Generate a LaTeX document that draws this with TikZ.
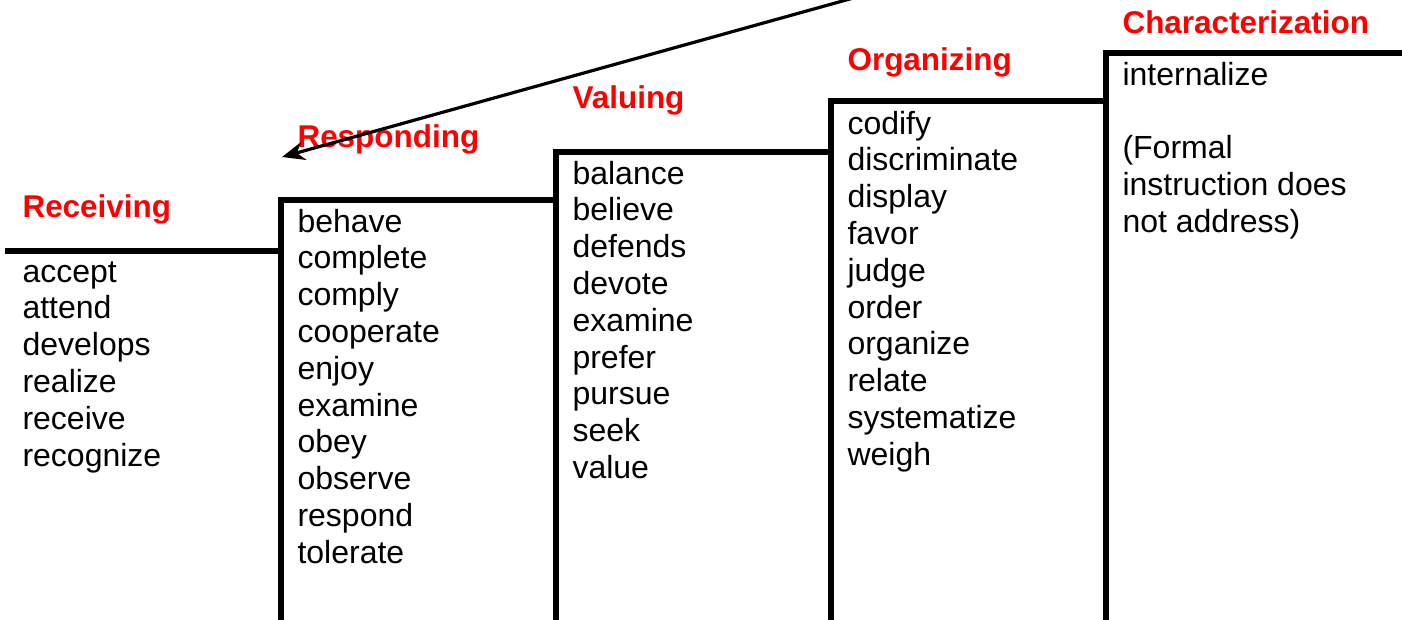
\documentclass[tikz,border=0pt]{standalone}
\usepackage{fontspec}
\setmainfont{Liberation Sans}
\usetikzlibrary{arrows.meta}

\begin{document}
\begin{tikzpicture}[x=0.375pt, y=-0.375pt, font=\fontsize{12}{13.8}\selectfont]
    \tikzstyle{stair}=[line width=2pt, line cap=rect]
    \tikzstyle{level}=[anchor=base west, inner sep=0pt, text=red, font=\fontsize{11.8}{13.8}\selectfont\bfseries]
    \tikzstyle{verb}=[anchor=base west, inner sep=0pt]

    \useasboundingbox (0,0) rectangle (1402,619);

    % Degraus
    \draw[stair] (8,251) -- (281,251);
    \draw[stair] (281,630) -- (281,200) -- (556,200);
    \draw[stair] (556,630) -- (556,152) -- (831,152);
    \draw[stair] (831,630) -- (831,101) -- (1106,101);
    \draw[stair] (1106,630) -- (1106,53) -- (1410,53);

    % Niveis
    \node[level] (receiving) at (22,217) {Receiving};
    \node[level] (responding) at (297,147) {Responding};
    \node[level] (valuing) at (572,108) {Valuing};
    \node[level] (organizing) at (847,70) {Organizing};
    \node[level] (characterization) at (1122,33) {Characterization};

    % Verbos
    \foreach \w [count=\i from 0] in {accept,attend,develops,realize,receive,recognize}
        \node[verb] (rec-\i) at (22,282+36.8*\i) {\w};
    \foreach \w [count=\i from 0] in {behave,complete,comply,cooperate,enjoy,examine,obey,observe,respond,tolerate}
        \node[verb] (res-\i) at (297,232+36.8*\i) {\w};
    \foreach \w [count=\i from 0] in {balance,believe,defends,devote,examine,prefer,pursue,seek,value}
        \node[verb] (val-\i) at (572,184+36.8*\i) {\w};
    \foreach \w [count=\i from 0] in {codify,discriminate,display,favor,judge,order,organize,relate,systematize,weigh}
        \node[verb] (org-\i) at (847,134+36.8*\i) {\w};
    \node[verb] (cha-0) at (1122,85) {internalize};
    \foreach \w [count=\i from 2] in {{(Formal},{instruction does},{not address)}}
        \node[verb] (cha-\i) at (1122,85+36.8*\i) {\w};

    % Seta
    \coordinate (arrowstart) at (900,-15);
    \coordinate (arrowtip) at (282,157);
    \draw[-{Stealth[length=8.5pt,width=7pt]}, line width=1.2pt] (arrowstart) -- (arrowtip);
\end{tikzpicture}
\end{document}
